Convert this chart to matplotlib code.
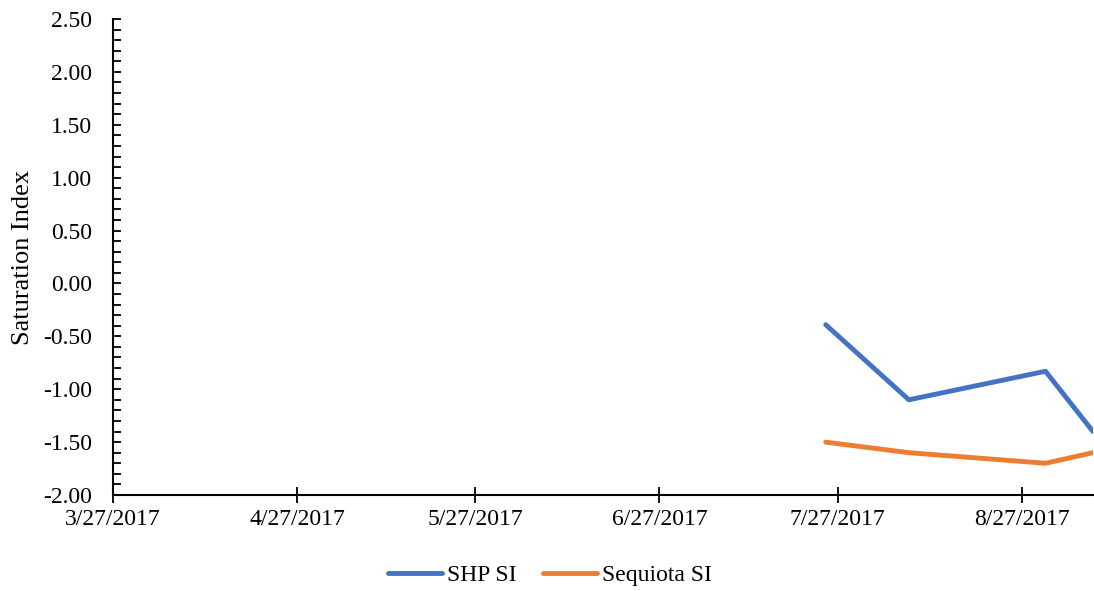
import matplotlib.pyplot as plt
from matplotlib.ticker import MultipleLocator, FormatStrFormatter
import datetime as dt

plt.rcParams['font.family'] = ['Liberation Serif', 'DejaVu Serif']

dates = ['2017-07-25', '2017-08-08', '2017-08-31', '2017-09-08']
shp_si = [-0.39, -1.10, -0.83, -1.40]
sequiota_si = [-1.50, -1.60, -1.70, -1.60]
tick_dates = ['2017-03-27', '2017-04-27', '2017-05-27', '2017-06-27', '2017-07-27', '2017-08-27']

x = [dt.datetime.strptime(d, '%Y-%m-%d') for d in dates]
ticks = [dt.datetime.strptime(d, '%Y-%m-%d') for d in tick_dates]

fig = plt.figure(figsize=(10.94, 5.91), dpi=100)
ax = fig.add_axes([113 / 1094, 1 - 495 / 591, (1093 - 113) / 1094, (495 - 19) / 591])

ax.plot(x, shp_si, color='#4472C4', lw=3.5, label='SHP SI', solid_capstyle='round')
ax.plot(x, sequiota_si, color='#ED7D31', lw=3.5, label='Sequiota SI', solid_capstyle='round')

ax.set_xlim(dt.datetime(2017, 3, 27), dt.datetime(2017, 9, 8))
ax.set_ylim(-2.0, 2.5)
ax.set_xticks(ticks)
ax.set_xticklabels([f'{t.month}/{t.day}/{t.year}' for t in ticks])
ax.yaxis.set_major_locator(MultipleLocator(0.5))
ax.yaxis.set_minor_locator(MultipleLocator(0.1))
ax.yaxis.set_major_formatter(FormatStrFormatter('%.2f'))

for s in ['top', 'right']:
    ax.spines[s].set_visible(False)
for s in ['left', 'bottom']:
    ax.spines[s].set_linewidth(1.5)

ax.tick_params(axis='x', direction='inout', length=12, width=1.3, labelsize=17, pad=4)
ax.tick_params(axis='y', which='major', direction='in', length=6, width=1.3, labelsize=17, pad=15)
ax.tick_params(axis='y', which='minor', direction='in', length=6, width=1.3)

ax.set_ylabel('Saturation Index', fontsize=19)
ax.yaxis.set_label_coords(-0.081, 0.5)

fig.legend(loc='center', bbox_to_anchor=(550 / 1094, 1 - 575 / 591), ncol=2, frameon=False,
           fontsize=17, handlelength=2.3, handletextpad=0.2, columnspacing=1.1)

fig.savefig('out.png', dpi=100)
